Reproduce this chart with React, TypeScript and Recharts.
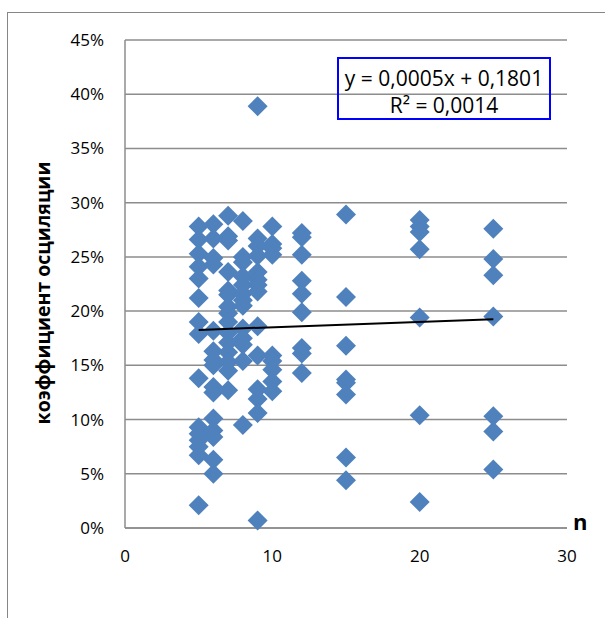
import { CartesianGrid, Scatter, ScatterChart, XAxis, YAxis } from 'recharts';

// n values of each column and the oscillation coefficient of every point (in %)
const nValues = [5, 6, 7, 8, 9, 10, 12, 15, 20, 25];
const coefN5 = [27.8, 26.6, 25.3, 24.1, 23.0, 21.2, 19.0, 17.9, 13.8, 9.3, 8.7, 8.1, 7.5, 6.7, 2.1];
const coefN6 = [28.0, 26.7, 24.9, 24.3, 18.2, 16.3, 15.5, 15.0, 13.0, 12.5, 10.1, 9.0, 8.4, 6.3, 5.0];
const coefN7 = [28.8, 26.9, 26.5, 23.6, 21.9, 21.5, 20.4, 19.8, 19.0, 18.0, 17.1, 16.2, 15.3, 14.5, 12.7];
const coefN8 = [28.3, 25.0, 24.5, 23.2, 22.4, 21.6, 21.0, 20.5, 18.4, 17.5, 16.9, 15.4, 9.5];
const coefN9 = [38.9, 26.7, 26.0, 25.1, 23.6, 22.9, 22.4, 21.8, 18.6, 15.9, 12.8, 11.9, 10.6, 0.7];
const coefN10 = [27.8, 26.2, 25.8, 25.2, 15.9, 15.4, 14.6, 13.5, 12.6];
const coefN12 = [27.2, 26.8, 25.2, 22.8, 21.6, 19.9, 16.6, 16.1, 14.3];
const coefN15 = [28.9, 21.3, 16.8, 13.7, 13.4, 12.3, 6.5, 4.4];
const coefN20 = [28.4, 27.8, 27.3, 25.7, 19.4, 10.4, 2.4];
const coefN25 = [27.6, 24.8, 23.3, 19.5, 10.3, 8.9, 5.4];
const columns = [coefN5, coefN6, coefN7, coefN8, coefN9, coefN10, coefN12, coefN15, coefN20, coefN25];

// linear trend end points (y = 0,0005x + 0,1801)
const trendLine = [
  { n: 5, k: 0.1826 },
  { n: 25, k: 0.1926 },
];

const xTicks = [0, 10, 20, 30];
const yTicks = [0, 0.05, 0.1, 0.15, 0.2, 0.25, 0.3, 0.35, 0.4, 0.45];

const points = columns.flatMap((col, i) => col.map((v) => ({ n: nValues[i], k: v / 100 })));

const font = '"Open Sans", sans-serif';

const Diamond = (props: any) => {
  const { cx, cy } = props;
  const r = 10;
  return <path d={`M${cx},${cy - r}L${cx + r},${cy}L${cx},${cy + r}L${cx - r},${cy}Z`} fill="#4F81BD" />;
};

export default function App() {
  return (
    <div style={{ position: 'absolute', left: 0, top: 0, width: 605, height: 618, overflow: 'hidden', background: '#fff' }}>
      <div style={{ position: 'absolute', left: 7, top: 12, width: 700, height: 700, borderLeft: '1px solid #868686', borderTop: '1px solid #868686' }} />
      <ScatterChart width={605} height={618} margin={{ top: 40, right: 38, bottom: 60, left: 0 }} style={{ position: 'absolute', left: 0, top: 0 }}>
        <CartesianGrid vertical={false} stroke="#8c8c8c" strokeWidth={1.5} />
        <XAxis
          type="number"
          dataKey="n"
          domain={[0, 30]}
          ticks={xTicks}
          height={30}
          tickLine={false}
          tickMargin={16}
          axisLine={{ stroke: '#8c8c8c', strokeWidth: 1.5 }}
          tick={{ fill: '#000', fontSize: 17, fontFamily: font }}
          label={{
            content: () => (
              <text x={573} y={530} fontSize={22} fontWeight="bold" fontFamily={font} fill="#000">
                n
              </text>
            ),
          }}
        />
        <YAxis
          type="number"
          dataKey="k"
          domain={[0, 0.45]}
          ticks={yTicks}
          width={125}
          tickLine={false}
          tickMargin={15}
          tickFormatter={(v: number) => `${Math.round(v * 100)}%`}
          axisLine={{ stroke: '#8c8c8c', strokeWidth: 1.5 }}
          tick={{ fill: '#000', fontSize: 17, fontFamily: font }}
          label={{
            content: () => (
              <text
                x={42}
                y={293}
                transform="rotate(-90 42 293)"
                textAnchor="middle"
                dominantBaseline="central"
                fontSize={19.5}
                fontWeight="bold"
                fontFamily={font}
                fill="#000"
              >
                коэффициент осциляции
              </text>
            ),
          }}
        />
        <Scatter data={points} shape={Diamond} isAnimationActive={false} />
        <Scatter data={trendLine} line={{ stroke: '#000', strokeWidth: 2 }} shape={() => <g />} isAnimationActive={false} />
      </ScatterChart>
      <div
        style={{
          position: 'absolute',
          left: 337,
          top: 57,
          width: 214,
          height: 63,
          border: '2px solid #0000ff',
          fontFamily: font,
          fontSize: 21,
          lineHeight: '27px',
          textAlign: 'center',
          paddingTop: 6,
          boxSizing: 'border-box',
          color: '#000',
        }}
      >
        <div>y = 0,0005x + 0,1801</div>
        <div>R² = 0,0014</div>
      </div>
    </div>
  );
}
